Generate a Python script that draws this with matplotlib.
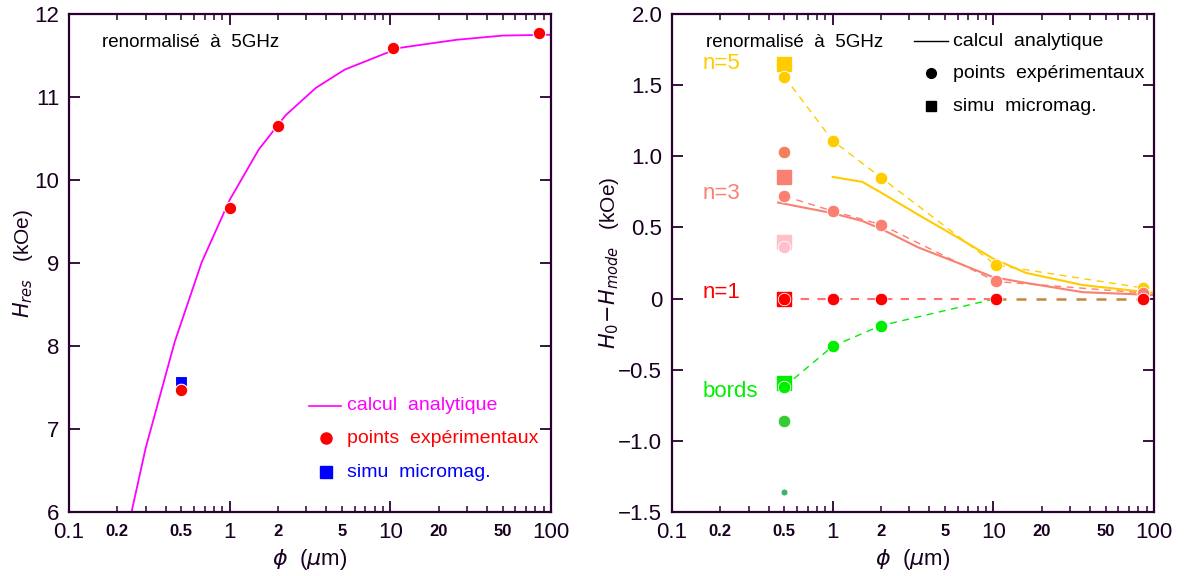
import matplotlib
matplotlib.use('Agg')
import matplotlib.pyplot as plt
from matplotlib.ticker import FixedLocator, NullFormatter

plt.rcParams['font.family'] = ['Liberation Sans', 'DejaVu Sans']
plt.rcParams['mathtext.fontset'] = 'dejavusans'

# ---- donnees panneau gauche
phi_ana = [0.245, 0.3, 0.455, 0.67, 1.0, 1.52, 2.23, 3.44, 5.2, 7.9, 11.3, 17, 26, 50, 100]
h_ana = [6.0, 6.77, 8.05, 9.01, 9.76, 10.37, 10.78, 11.11, 11.33, 11.47, 11.59, 11.64, 11.69, 11.74, 11.75]
phi_exp = [0.5, 1, 2, 10.4, 84]
h_exp = [7.47, 9.66, 10.65, 11.59, 11.77]
phi_sim = [0.5]
h_sim = [7.57]

# ---- donnees panneau droit
phi_pts = [0.5, 1, 2, 10.4, 85]
n5_exp = [1.56, 1.11, 0.85, 0.235, 0.075]
n3_exp = [0.72, 0.615, 0.52, 0.12, 0.04]
n1_exp = [0, 0, 0, 0, 0]
phi_bords = [0.5, 1, 2, 10.4]
bords_exp = [-0.62, -0.335, -0.19, 0.0]

phi_n5_ana = [1.0, 1.53, 2, 3.4, 6.2, 10, 16, 36, 100]
n5_ana = [0.855, 0.82, 0.745, 0.59, 0.42, 0.28, 0.18, 0.095, 0.04]
phi_n3_ana = [0.457, 1, 1.53, 2, 3.4, 6.2, 10, 16, 36, 100]
n3_ana = [0.675, 0.60, 0.545, 0.49, 0.36, 0.245, 0.15, 0.11, 0.045, 0.025]

# points isoles a 0.5 um : (valeur, couleur, taille)
extra_pts = [(1.03, '#f4805a', 9), (0.36, '#ffc0cb', 9), (-0.86, '#33cc33', 9), (-1.36, '#3cb371', 5)]
# simu micromag a 0.5 um : (valeur, couleur)
sim_pts = [(1.65, '#ffcc00'), (0.855, '#fa8072'), (0.40, '#ffc0cb'), (0.0, '#ff0000'), (-0.59, '#00ee00')]

major = [0.1, 1, 10, 100]
minor_lab = [0.2, 0.5, 2, 5, 20, 50]
frame = '#2a0030'
txt = '#1a0020'

fig = plt.figure(figsize=(11.84, 5.76), dpi=100)
ax1 = fig.add_axes([69 / 1184, 64 / 576, 482 / 1184, 498 / 576])
ax2 = fig.add_axes([672 / 1184, 64 / 576, 482 / 1184, 498 / 576])


def style_axis(ax):
    ax.set_xscale('log')
    ax.set_xlim(0.1, 100)
    ax.xaxis.set_major_locator(FixedLocator(major))
    ax.set_xticklabels(['0.1', '1', '10', '100'])
    minors = [m * d for d in (0.1, 1, 10) for m in range(2, 10)]
    ax.xaxis.set_minor_locator(FixedLocator(minors))
    ax.xaxis.set_minor_formatter(NullFormatter())
    ax.tick_params(which='both', direction='in', top=True, right=True, colors=frame,
                   labelcolor=txt)
    ax.tick_params(which='major', length=8, width=1.3, labelsize=16, pad=7)
    ax.tick_params(which='minor', length=4, width=1.1)
    for v in minor_lab:
        ax.text(v, -0.024, ('%g' % v), transform=ax.get_xaxis_transform(), ha='center', va='top',
                fontsize=12, fontweight='bold', color=txt)
    for s in ax.spines.values():
        s.set_color(frame)
        s.set_linewidth(1.6)
    ax.set_xlabel(r'$\phi$  ($\mu$m)', fontsize=16, color=txt, labelpad=3)


# ---- panneau gauche
style_axis(ax1)
ax1.set_ylim(6, 12)
ax1.set_yticks([6, 7, 8, 9, 10, 11, 12])
ax1.plot(phi_ana, h_ana, color='#ff00ff', linewidth=1.3)
ax1.plot(phi_sim, h_sim, 's', color='#0000ff', markersize=9, markeredgecolor='white', markeredgewidth=0.8)
ax1.plot(phi_exp, h_exp, 'o', color='#ff0000', markersize=9, markeredgecolor='white', markeredgewidth=0.8)
ax1.set_ylabel(r'$H_{res}$   (kOe)', fontsize=15, color=txt)
ax1.yaxis.set_label_coords(-0.07, 0.5)
ax1.text(0.16, 11.66, 'renormalisé  à  5GHz', fontsize=13.5, color='black', va='center')
ax1.plot([3.1, 4.9], [7.28, 7.28], color='#ff00ff', linewidth=1.2)
ax1.plot([3.96], [6.89], 'o', color='#ff0000', markersize=8)
ax1.plot([3.96], [6.48], 's', color='#0000ff', markersize=8)
ax1.text(5.4, 7.28, 'calcul  analytique', fontsize=14, color='#ff00ff', va='center')
ax1.text(5.4, 6.89, 'points  expérimentaux', fontsize=14, color='#ff0000', va='center')
ax1.text(5.4, 6.48, 'simu  micromag.', fontsize=14, color='#0000ff', va='center')

# ---- panneau droit
style_axis(ax2)
ax2.set_ylim(-1.5, 2.0)
ax2.set_yticks([-1.5, -1.0, -0.5, 0, 0.5, 1.0, 1.5, 2.0])
ax2.set_yticklabels(['\u22121.5', '\u22121.0', '\u22120.5', '0', '0.5', '1.0', '1.5', '2.0'])
ax2.set_ylabel(r'$H_0\!-\!H_{mode}$   (kOe)', fontsize=15, color=txt)
ax2.yaxis.set_label_coords(-0.106, 0.5)

ax2.plot(phi_n5_ana, n5_ana, color='#ffcc00', linewidth=1.5)
ax2.plot(phi_n3_ana, n3_ana, color='#fa8072', linewidth=1.5)
ax2.plot(phi_pts, n5_exp, '--', color='#ffcc00', linewidth=1.0, dashes=(5, 4))
ax2.plot(phi_pts, n3_exp, '--', color='#fa8072', linewidth=1.0, dashes=(5, 4))
ax2.plot(phi_bords, bords_exp, '--', color='#00ee00', linewidth=1.0, dashes=(5, 4))
ax2.plot(phi_pts[:4], n1_exp[:4], '--', color='#ff7070', linewidth=1.5, dashes=(4, 4))
ax2.plot([phi_pts[3], 100], [n1_exp[3], n1_exp[4]], '--', color='#c8843c', linewidth=1.8, dashes=(4, 4))

for val, col in sim_pts:
    ax2.plot([0.5], [val], 's', color=col, markersize=10)
for val, col, sz in extra_pts:
    ax2.plot([0.5], [val], 'o', color=col, markersize=sz, markeredgecolor='white', markeredgewidth=0.6)
ax2.plot(phi_pts, n5_exp, 'o', color='#ffcc00', markersize=9, markeredgecolor='white', markeredgewidth=0.6)
ax2.plot(phi_pts, n3_exp, 'o', color='#fa8072', markersize=9, markeredgecolor='white', markeredgewidth=0.6)
ax2.plot(phi_bords[:3], bords_exp[:3], 'o', color='#00ee00', markersize=9, markeredgecolor='white', markeredgewidth=0.6)
ax2.plot(phi_pts, n1_exp, 'o', color='#ff0000', markersize=9, markeredgecolor='white', markeredgewidth=0.6)

ax2.text(0.156, 1.65, 'n=5', fontsize=16, color='#ffcc00', va='center')
ax2.text(0.156, 0.74, 'n=3', fontsize=16, color='#fa8072', va='center')
ax2.text(0.156, 0.045, 'n=1', fontsize=16, color='#ff0000', va='center')
ax2.text(0.156, -0.65, 'bords', fontsize=16, color='#00ee00', va='center')

ax2.text(0.163, 1.80, 'renormalisé  à  5GHz', fontsize=13.5, color='black', va='center')
ax2.plot([3.2, 5.2], [1.81, 1.81], color='black', linewidth=1.0)
ax2.plot([4.1], [1.585], 'o', color='black', markersize=7)
ax2.plot([4.1], [1.35], 's', color='black', markersize=7)
ax2.text(5.6, 1.81, 'calcul  analytique', fontsize=14, color='black', va='center')
ax2.text(5.6, 1.585, 'points  expérimentaux', fontsize=14, color='black', va='center')
ax2.text(5.6, 1.35, 'simu  micromag.', fontsize=14, color='black', va='center')

fig.savefig('out.png', dpi=100)
